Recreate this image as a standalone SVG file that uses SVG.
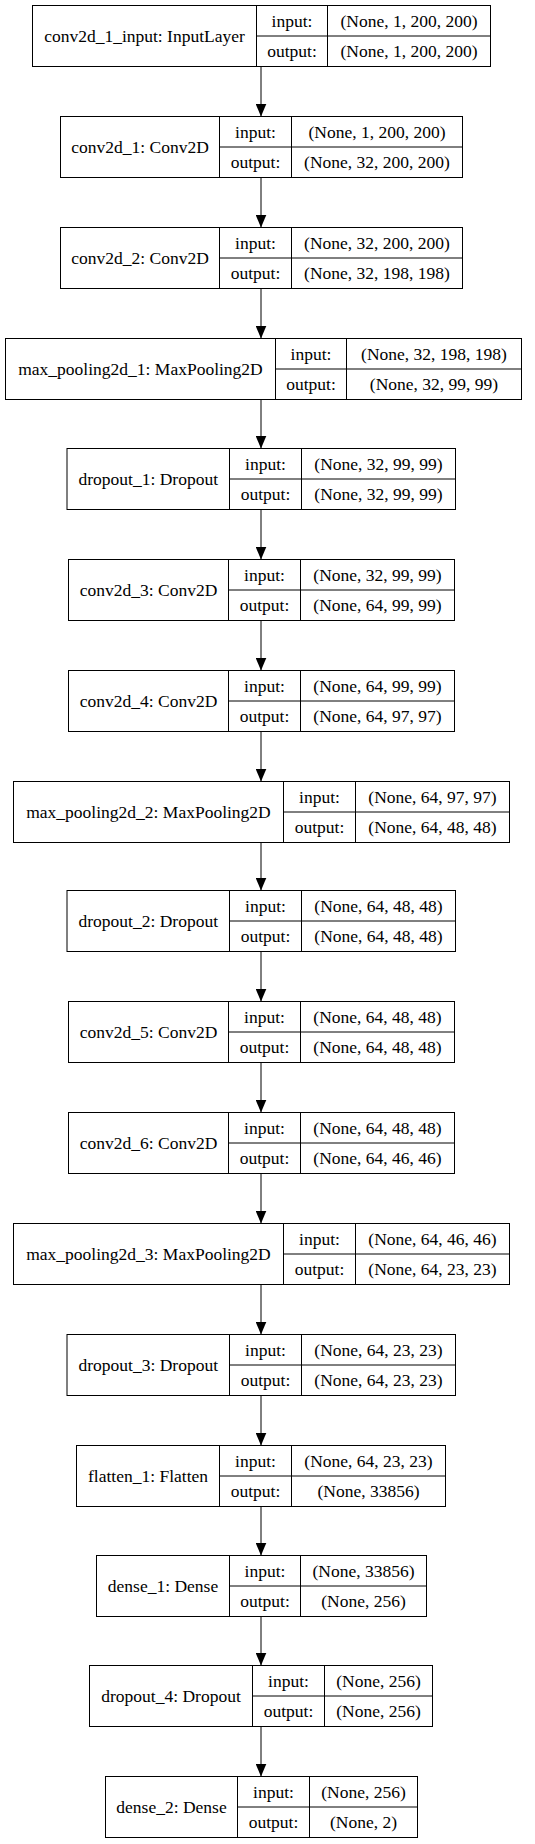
<svg xmlns="http://www.w3.org/2000/svg" width="535" height="1844" viewBox="0 0 535 1844">
<style>
.b{fill:none;stroke:#000;stroke-width:1}
.e{stroke:#000;stroke-width:1;fill:none}
</style>
<defs>
<marker id="ah" markerUnits="userSpaceOnUse" markerWidth="13" markerHeight="11" refX="13" refY="5.5" orient="auto">
<path d="M0,0 L13,5.5 L0,11 z" fill="#000"/>
</marker>
</defs>
<rect width="535" height="1844" fill="#fff"/>
<g id="connectors">
<line class="e" x1="261" y1="66.5" x2="261" y2="116.5" marker-end="url(#ah)"/>
<line class="e" x1="261" y1="177.5" x2="261" y2="227.5" marker-end="url(#ah)"/>
<line class="e" x1="261" y1="288.5" x2="261" y2="338.5" marker-end="url(#ah)"/>
<line class="e" x1="261" y1="399.5" x2="261" y2="448.5" marker-end="url(#ah)"/>
<line class="e" x1="261" y1="509.5" x2="261" y2="559.5" marker-end="url(#ah)"/>
<line class="e" x1="261" y1="620.5" x2="261" y2="670.5" marker-end="url(#ah)"/>
<line class="e" x1="261" y1="731.5" x2="261" y2="781.5" marker-end="url(#ah)"/>
<line class="e" x1="261" y1="842.5" x2="261" y2="890.5" marker-end="url(#ah)"/>
<line class="e" x1="261" y1="951.5" x2="261" y2="1001.5" marker-end="url(#ah)"/>
<line class="e" x1="261" y1="1062.5" x2="261" y2="1112.5" marker-end="url(#ah)"/>
<line class="e" x1="261" y1="1173.5" x2="261" y2="1223.5" marker-end="url(#ah)"/>
<line class="e" x1="261" y1="1284.5" x2="261" y2="1334.5" marker-end="url(#ah)"/>
<line class="e" x1="261" y1="1395.5" x2="261" y2="1445.5" marker-end="url(#ah)"/>
<line class="e" x1="261" y1="1506.5" x2="261" y2="1555.5" marker-end="url(#ah)"/>
<line class="e" x1="261" y1="1616.5" x2="261" y2="1665.5" marker-end="url(#ah)"/>
<line class="e" x1="261" y1="1726.5" x2="261" y2="1776.5" marker-end="url(#ah)"/>
</g>
<g font-family="Liberation Serif, Times New Roman, serif" font-size="17.5" text-anchor="middle" fill="#000">
<g id="n0" transform="translate(0,5.5)">
<rect class="b" x="32.5" y="0" width="458" height="61"/>
<path class="b" d="M256.5,0V61M327.5,0V61M256.5,30.5H490.5"/>
<text x="144.5" y="36">conv2d_1_input: InputLayer</text>
<text x="292" y="21">input:</text><text x="292" y="51">output:</text>
<text x="409" y="21">(None, 1, 200, 200)</text><text x="409" y="51">(None, 1, 200, 200)</text>
</g>
<g id="n1" transform="translate(0,116.5)">
<rect class="b" x="60.5" y="0" width="402" height="61"/>
<path class="b" d="M219.5,0V61M291.5,0V61M219.5,30.5H462.5"/>
<text x="140" y="36">conv2d_1: Conv2D</text>
<text x="255.5" y="21">input:</text><text x="255.5" y="51">output:</text>
<text x="377" y="21">(None, 1, 200, 200)</text><text x="377" y="51">(None, 32, 200, 200)</text>
</g>
<g id="n2" transform="translate(0,227.5)">
<rect class="b" x="60.5" y="0" width="402" height="61"/>
<path class="b" d="M219.5,0V61M291.5,0V61M219.5,30.5H462.5"/>
<text x="140" y="36">conv2d_2: Conv2D</text>
<text x="255.5" y="21">input:</text><text x="255.5" y="51">output:</text>
<text x="377" y="21">(None, 32, 200, 200)</text><text x="377" y="51">(None, 32, 198, 198)</text>
</g>
<g id="n3" transform="translate(0,338.5)">
<rect class="b" x="5.5" y="0" width="516" height="61"/>
<path class="b" d="M275.5,0V61M346.5,0V61M275.5,30.5H521.5"/>
<text x="140.5" y="36">max_pooling2d_1: MaxPooling2D</text>
<text x="311" y="21">input:</text><text x="311" y="51">output:</text>
<text x="434" y="21">(None, 32, 198, 198)</text><text x="434" y="51">(None, 32, 99, 99)</text>
</g>
<g id="n4" transform="translate(0,448.5)">
<rect class="b" x="67" y="0" width="388.5" height="61"/>
<path class="b" d="M229.5,0V61M301.5,0V61M229.5,30.5H455.5"/>
<text x="148.3" y="36">dropout_1: Dropout</text>
<text x="265.5" y="21">input:</text><text x="265.5" y="51">output:</text>
<text x="378.5" y="21">(None, 32, 99, 99)</text><text x="378.5" y="51">(None, 32, 99, 99)</text>
</g>
<g id="n5" transform="translate(0,559.5)">
<rect class="b" x="68.5" y="0" width="386" height="61"/>
<path class="b" d="M228.5,0V61M300.5,0V61M228.5,30.5H454.5"/>
<text x="148.5" y="36">conv2d_3: Conv2D</text>
<text x="264.5" y="21">input:</text><text x="264.5" y="51">output:</text>
<text x="377.5" y="21">(None, 32, 99, 99)</text><text x="377.5" y="51">(None, 64, 99, 99)</text>
</g>
<g id="n6" transform="translate(0,670.5)">
<rect class="b" x="68.5" y="0" width="386" height="61"/>
<path class="b" d="M228.5,0V61M300.5,0V61M228.5,30.5H454.5"/>
<text x="148.5" y="36">conv2d_4: Conv2D</text>
<text x="264.5" y="21">input:</text><text x="264.5" y="51">output:</text>
<text x="377.5" y="21">(None, 64, 99, 99)</text><text x="377.5" y="51">(None, 64, 97, 97)</text>
</g>
<g id="n7" transform="translate(0,781.5)">
<rect class="b" x="13.5" y="0" width="496" height="61"/>
<path class="b" d="M283.5,0V61M355.5,0V61M283.5,30.5H509.5"/>
<text x="148.5" y="36">max_pooling2d_2: MaxPooling2D</text>
<text x="319.5" y="21">input:</text><text x="319.5" y="51">output:</text>
<text x="432.5" y="21">(None, 64, 97, 97)</text><text x="432.5" y="51">(None, 64, 48, 48)</text>
</g>
<g id="n8" transform="translate(0,890.5)">
<rect class="b" x="67" y="0" width="388.5" height="61"/>
<path class="b" d="M229.5,0V61M301.5,0V61M229.5,30.5H455.5"/>
<text x="148.3" y="36">dropout_2: Dropout</text>
<text x="265.5" y="21">input:</text><text x="265.5" y="51">output:</text>
<text x="378.5" y="21">(None, 64, 48, 48)</text><text x="378.5" y="51">(None, 64, 48, 48)</text>
</g>
<g id="n9" transform="translate(0,1001.5)">
<rect class="b" x="68.5" y="0" width="386" height="61"/>
<path class="b" d="M228.5,0V61M300.5,0V61M228.5,30.5H454.5"/>
<text x="148.5" y="36">conv2d_5: Conv2D</text>
<text x="264.5" y="21">input:</text><text x="264.5" y="51">output:</text>
<text x="377.5" y="21">(None, 64, 48, 48)</text><text x="377.5" y="51">(None, 64, 48, 48)</text>
</g>
<g id="n10" transform="translate(0,1112.5)">
<rect class="b" x="68.5" y="0" width="386" height="61"/>
<path class="b" d="M228.5,0V61M300.5,0V61M228.5,30.5H454.5"/>
<text x="148.5" y="36">conv2d_6: Conv2D</text>
<text x="264.5" y="21">input:</text><text x="264.5" y="51">output:</text>
<text x="377.5" y="21">(None, 64, 48, 48)</text><text x="377.5" y="51">(None, 64, 46, 46)</text>
</g>
<g id="n11" transform="translate(0,1223.5)">
<rect class="b" x="13.5" y="0" width="496" height="61"/>
<path class="b" d="M283.5,0V61M355.5,0V61M283.5,30.5H509.5"/>
<text x="148.5" y="36">max_pooling2d_3: MaxPooling2D</text>
<text x="319.5" y="21">input:</text><text x="319.5" y="51">output:</text>
<text x="432.5" y="21">(None, 64, 46, 46)</text><text x="432.5" y="51">(None, 64, 23, 23)</text>
</g>
<g id="n12" transform="translate(0,1334.5)">
<rect class="b" x="67" y="0" width="388.5" height="61"/>
<path class="b" d="M229.5,0V61M301.5,0V61M229.5,30.5H455.5"/>
<text x="148.3" y="36">dropout_3: Dropout</text>
<text x="265.5" y="21">input:</text><text x="265.5" y="51">output:</text>
<text x="378.5" y="21">(None, 64, 23, 23)</text><text x="378.5" y="51">(None, 64, 23, 23)</text>
</g>
<g id="n13" transform="translate(0,1445.5)">
<rect class="b" x="76.5" y="0" width="369" height="61"/>
<path class="b" d="M219.5,0V61M291.5,0V61M219.5,30.5H445.5"/>
<text x="148" y="36">flatten_1: Flatten</text>
<text x="255.5" y="21">input:</text><text x="255.5" y="51">output:</text>
<text x="368.5" y="21">(None, 64, 23, 23)</text><text x="368.5" y="51">(None, 33856)</text>
</g>
<g id="n14" transform="translate(0,1555.5)">
<rect class="b" x="96.5" y="0" width="330" height="61"/>
<path class="b" d="M229.5,0V61M300.5,0V61M229.5,30.5H426.5"/>
<text x="163" y="36">dense_1: Dense</text>
<text x="265" y="21">input:</text><text x="265" y="51">output:</text>
<text x="363.5" y="21">(None, 33856)</text><text x="363.5" y="51">(None, 256)</text>
</g>
<g id="n15" transform="translate(0,1665.5)">
<rect class="b" x="89.5" y="0" width="343" height="61"/>
<path class="b" d="M252.5,0V61M324.5,0V61M252.5,30.5H432.5"/>
<text x="171" y="36">dropout_4: Dropout</text>
<text x="288.5" y="21">input:</text><text x="288.5" y="51">output:</text>
<text x="378.5" y="21">(None, 256)</text><text x="378.5" y="51">(None, 256)</text>
</g>
<g id="n16" transform="translate(0,1776.5)">
<rect class="b" x="105.5" y="0" width="312" height="61"/>
<path class="b" d="M237.5,0V61M309.5,0V61M237.5,30.5H417.5"/>
<text x="171.5" y="36">dense_2: Dense</text>
<text x="273.5" y="21">input:</text><text x="273.5" y="51">output:</text>
<text x="363.5" y="21">(None, 256)</text><text x="363.5" y="51">(None, 2)</text>
</g>
</g>
</svg>
